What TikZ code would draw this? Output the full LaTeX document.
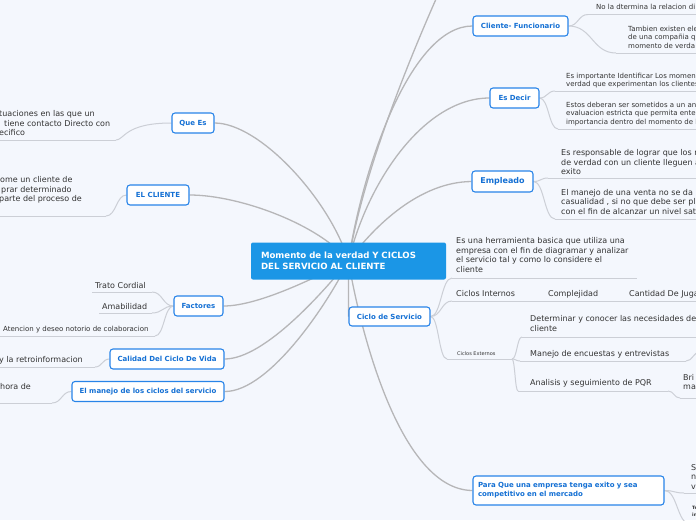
\documentclass[tikz,border=0pt]{standalone}
\usepackage{fontspec}
\setmainfont{DejaVu Sans}
\usetikzlibrary{calc}
\pgfdeclarelayer{bgl}
\pgfdeclarelayer{lines}
\pgfsetlayers{bgl,lines,main}
\definecolor{bg}{RGB}{244,247,253}
\definecolor{cfill}{RGB}{27,150,230}
\definecolor{bblue}{RGB}{40,132,232}
\definecolor{tblue}{RGB}{20,112,212}
\definecolor{leafc}{RGB}{51,51,51}
\definecolor{mainl}{RGB}{182,182,184}
\definecolor{subl}{RGB}{204,207,214}
\newcommand\subcon[3][0.5]{\draw[subc] let \p1=(#2), \p2=(#3) in (\p1) .. controls ({\x2+#1*(\x1-\x2)},\y1) and ({\x2+#1*(\x1-\x2)},\y2) .. (\p2);}
\begin{document}
\begin{tikzpicture}[x=1pt,y=-1pt,
  branch/.style={draw=bblue, line width=1.1pt, fill=white, rounded corners=3pt, text=tblue, font=\fontsize{7}{9}\selectfont\bfseries, inner sep=0pt, minimum height=20pt},
  leaf/.style={inner sep=0pt, anchor=base west, text=leafc, font=\fontsize{8}{9.5}\selectfont},
  leafs/.style={leaf, font=\fontsize{7}{8.5}\selectfont},
  mainc/.style={draw=mainl, line width=1.3pt},
  subc/.style={draw=subl, line width=1pt},
  uline/.style={draw=subl, line width=1pt}]
\useasboundingbox (0,0) rectangle (696,520);
\begin{pgfonlayer}{bgl}
\fill[bg] (0,0) rectangle (696,520);
\end{pgfonlayer}

% central node
\node[fill=cfill, rounded corners=2pt, minimum width=195pt, minimum height=37pt, inner sep=0pt,
  text width=175pt, align=left, text=white, font=\fontsize{8.6}{11}\selectfont\bfseries] (c) at (348.5,261)
  {Momento de la verdad Y CICLOS\\DEL SERVICIO AL CLIENTE};

% branch nodes
\node[branch, minimum width=42pt] (quees) at (193,123) {Que Es};
\node[branch, minimum width=62pt] (cliente) at (158,195) {EL CLIENTE};
\node[branch, minimum width=49pt] (factores) at (198.5,306) {Factores};
\node[branch, minimum width=114pt] (calidad) at (167,359) {Calidad Del Ciclo De Vida};
\node[branch, minimum width=152pt] (manejo) at (148,391.5) {El manejo de los ciclos del servicio};
\node[branch, minimum width=95pt] (clifun) at (520.5,26) {Cliente- Funcionario};
\node[branch, minimum width=49pt] (esdecir) at (514.5,98) {Es Decir};
\node[branch, minimum width=61pt, minimum height=21pt, font=\fontsize{8}{9}\selectfont\bfseries] (empleado) at (502.5,181.5) {Empleado};
\node[branch, minimum width=81pt, minimum height=19pt] (ciclo) at (389.5,316.5) {Ciclo de Servicio};
\node[branch, minimum width=191pt, minimum height=29pt, text width=181pt, align=left] (paraque) at (568.5,490.5)
  {Para Que una empresa tenga exito y sea\\competitivo en el mercado};

% left leaves
\node[leaf] (qa1) at (-1,116.5) {tuaciones en las que un};
\node[leaf] (qa2) at (4,126) {tiene contacto Directo con};
\node[leaf] (qa3) at (-1,135.5) {ecifico};
\node[leaf] (ca1) at (0,182.5) {ome un cliente de};
\node[leaf] (ca2) at (1,192) {prar determinado};
\node[leaf] (ca3) at (-1,201.5) {parte del proceso de};
\node[leaf] (fa1) at (95,288) {Trato Cordial};
\node[leaf] (fa2) at (102,309.5) {Amabilidad};
\node[leafs] (fa3) at (3,331.5) {Atencion y deseo notorio de colaboracion};
\node[leaf] (cv1) at (-1,362.5) {y la retroinformacion};
\node[leaf] (mj1) at (0,389.5) {hora de};

% right leaves
\node[leafs] (cf1) at (596,9.5) {No la dtermina la relacion di};
\node[leafs] (cf2) at (628,31) {Tambien existen ele};
\node[leafs] (cf3) at (628,39.5) {de una compañia q};
\node[leafs] (cf4) at (628,48) {momento de verda};
\node[leafs] (ed1) at (566,78) {Es importante Identificar Los momen};
\node[leafs] (ed2) at (566,86.5) {verdad que experimentan los clientes};
\node[leafs] (ed3) at (566,107) {Estos deberan ser sometidos a un an};
\node[leafs] (ed4) at (566,115.5) {evaluacion estricta que permita enter};
\node[leafs] (ed5) at (566,124) {importancia dentro del momento de l};
\node[leaf] (em1) at (561,155.5) {Es responsable de lograr que los m};
\node[leaf] (em2) at (561,165) {de verdad con un cliente lleguen a};
\node[leaf] (em3) at (561,174.5) {exito};
\node[leaf] (em4) at (561,195) {El manejo de una venta no se da};
\node[leaf] (em5) at (561,204.5) {casualidad , si no que debe ser pl};
\node[leaf] (em6) at (561,214) {con el fin de alcanzar un nivel sat};
\node[leaf] (cs1) at (456,243.5) {Es una herramienta basica que utiliza una};
\node[leaf] (cs2) at (456,253) {empresa con el fin de diagramar y analizar};
\node[leaf] (cs3) at (456,262.5) {el servicio tal y como lo considere el};
\node[leaf] (cs4) at (456,272) {cliente};
\node[leaf] (ci1) at (456,296.5) {Ciclos Internos};
\node[leaf] (ci2) at (548,296.5) {Complejidad};
\node[leaf] (ci3) at (629,296.5) {Cantidad De Juga};
\node[leaf, font=\fontsize{5}{6}\selectfont] (ce1) at (457,355.5) {Ciclos Externos};
\node[leaf] (dt1) at (530,321.5) {Determinar y conocer las necesidades de};
\node[leaf] (dt2) at (530,331) {cliente};
\node[leaf] (me1) at (530,356) {Manejo de encuestas y entrevistas};
\node[leaf] (an1) at (530,385.5) {Analisis y seguimiento de PQR};
\node[leaf] (br1) at (683,380) {Bri};
\node[leaf] (br2) at (683,389.5) {ma};
\node[leaf] (sv1) at (691,470) {S};
\node[leaf] (sv2) at (691,479.5) {n};
\node[leaf] (sv3) at (691,489) {v};
\node[leaf, font=\fontsize{4.5}{6}\selectfont\bfseries] (te1) at (692,509) {Te};
\node[leaf, font=\fontsize{4.5}{6}\selectfont\bfseries] (te2) at (692,516) {in};

% underline coordinates
\coordinate (qu) at (116,140);   \coordinate (qs) at (-5,140);
\coordinate (cu) at (106,216);   \coordinate (cs) at (-5,216);
\coordinate (tu) at (152,292);   \coordinate (ts) at (92,292);
\coordinate (au) at (152,313);   \coordinate (as) at (99,313);
\coordinate (atu) at (155,336);  \coordinate (ats) at (-5,336);
\coordinate (clu) at (95,367);   \coordinate (cls) at (-5,367);
\coordinate (mu) at (52,403);    \coordinate (ms) at (-5,403);
\coordinate (f1) at (588,14.5);  \coordinate (f1e) at (700,14.5);
\coordinate (f2) at (616,53);    \coordinate (f2e) at (700,53);
\coordinate (d1) at (555,91);    \coordinate (d1e) at (700,91);
\coordinate (d2) at (558,129);   \coordinate (d2e) at (700,129);
\coordinate (e1) at (548,178);   \coordinate (e1e) at (700,178);
\coordinate (e2) at (555,219);   \coordinate (e2e) at (700,219);
\coordinate (s1) at (452,278);   \coordinate (s1e) at (637,278);
\coordinate (s2) at (452,301);   \coordinate (s2e) at (700,301);
\coordinate (s3) at (447,359);   \coordinate (s3e) at (512,359);
\coordinate (x1) at (522,337);   \coordinate (x1e) at (700,337);
\coordinate (x2) at (520,361);   \coordinate (x2e) at (686,361);
\coordinate (x2o) at (700,352);
\coordinate (x3) at (518,391);   \coordinate (x3e) at (668,391);
\coordinate (b1) at (680,398);   \coordinate (b1e) at (700,398);
\coordinate (p1) at (684,493);   \coordinate (p1e) at (700,493);
\coordinate (p2) at (690,524);
\coordinate (top) at (440,-10);

\begin{pgfonlayer}{lines}
% main connectors
\draw[mainc] (c.center) .. controls (362,180) and (400,80) .. (top);
\draw[mainc] (c.center) .. controls (362,170) and (410,26) .. (clifun.west);
\draw[mainc] (c.center) .. controls (368,180) and (425,98) .. (esdecir.west);
\draw[mainc] (c.center) .. controls (375,225) and (420,182) .. (empleado.west);
\draw[mainc] (c.center) -- (ciclo.west);
\draw[mainc] (c.center) .. controls (360,330) and (400,490) .. (paraque.west);
\draw[mainc] (c.center) .. controls (330,200) and (260,123) .. (quees.east);
\draw[mainc] (c.center) .. controls (320,225) and (240,195) .. (cliente.east);
\draw[mainc] (c.center) .. controls (320,275) and (260,306) .. (factores.east);
\draw[mainc] (c.center) .. controls (325,290) and (265,359) .. (calidad.east);
\draw[mainc] (c.center) .. controls (330,300) and (270,392) .. (manejo.east);
% underlines
\foreach \a/\b in {qs/qu,cs/cu,ts/tu,as/au,ats/atu,cls/clu,ms/mu,f1/f1e,f2/f2e,d1/d1e,d2/d2e,e1/e1e,e2/e2e,s1/s1e,s2/s2e,s3/s3e,x1/x1e,x2/x2e,x3/x3e,b1/b1e,p1/p1e}
  \draw[uline] (\a) -- (\b);
% sub connectors
\subcon[0.15]{quees.west}{qu}
\subcon{cliente.west}{cu}
\subcon{factores.west}{tu}
\subcon{factores.west}{au}
\subcon{factores.west}{atu}
\subcon{calidad.west}{clu}
\subcon{manejo.west}{mu}
\subcon{clifun.east}{f1}
\subcon{clifun.east}{f2}
\subcon{esdecir.east}{d1}
\subcon{esdecir.east}{d2}
\subcon{empleado.east}{e1}
\subcon{empleado.east}{e2}
\subcon{ciclo.east}{s1}
\subcon{ciclo.east}{s2}
\subcon{ciclo.east}{s3}
\subcon{s3e}{x1}
\subcon{s3e}{x2}
\subcon{s3e}{x3}
\subcon{x2e}{x2o}
\subcon{x3e}{b1}
\subcon{paraque.east}{p1}
\subcon{paraque.east}{p2}
\end{pgfonlayer}
\end{tikzpicture}
\end{document}
